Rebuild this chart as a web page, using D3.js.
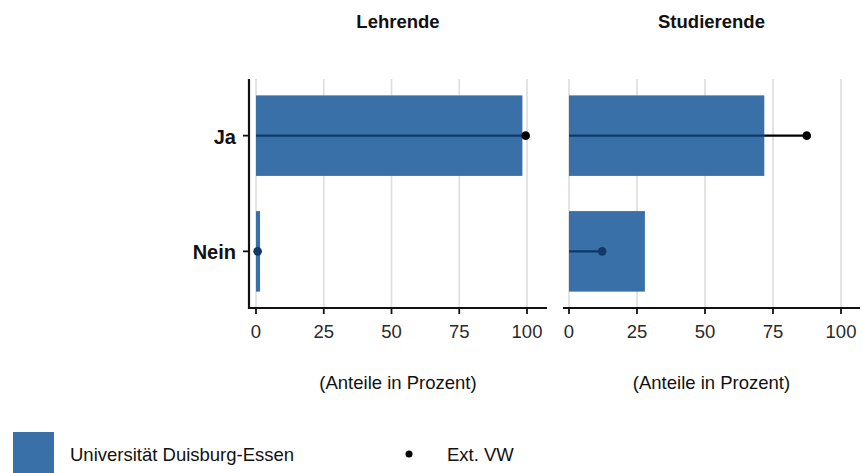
<!DOCTYPE html>
<html><head><meta charset="utf-8">
<script src="https://cdn.jsdelivr.net/npm/d3@7"></script>
<style>body{margin:0;background:#fff}svg{display:block;font-family:"Liberation Sans",Arial,sans-serif}</style>
</head><body><svg id="c" width="863" height="473"></svg>
<script>
const categories = ["Ja", "Nein"];
const panels = ["Lehrende", "Studierende"];
const uniValues = { "Lehrende": [98.3, 1.5], "Studierende": [71.8, 27.9] };
const extValues = { "Lehrende": [99.5, 0.6], "Studierende": [87.4, 12.2] };
const xTicks = [0, 25, 50, 75, 100];
const axisTitle = "(Anteile in Prozent)";
const legendLabels = ["Universität Duisburg-Essen", "Ext. VW"];

(function () {
const svg = d3.select("#c");
const barColor = "#3a70a8", lineInside = "#0d3a6a";
const panelX = [[256, 527], [569, 841]];
const axisStart = [249, 563], axisEnd = [547, 860];
const plotTop = 79, plotBottom = 308;
const fs = 18.5;

const y = d3.scaleBand().domain(categories).range([plotTop, plotBottom]).paddingInner(0.304).paddingOuter(0.1415);

panels.forEach((p, i) => {
  const x = d3.scaleLinear().domain([0, 100]).range(panelX[i]);
  const g = svg.append("g");
  g.selectAll("line.grid").data(xTicks).join("line")
    .attr("x1", d => x(d)).attr("x2", d => x(d)).attr("y1", plotTop).attr("y2", plotBottom)
    .attr("stroke", "#e0e0e0").attr("stroke-width", 1.8);
  const uv = uniValues[p], ev = extValues[p];
  categories.forEach((c, j) => {
    const cy = y(c) + y.bandwidth() / 2;
    g.append("line").attr("x1", x(0)).attr("x2", x(ev[j])).attr("y1", cy).attr("y2", cy)
      .attr("stroke", "#000").attr("stroke-width", 2.2);
    g.append("rect").attr("x", x(0)).attr("y", y(c)).attr("width", x(uv[j]) - x(0))
      .attr("height", y.bandwidth()).attr("fill", barColor);
    const inside = Math.min(uv[j], ev[j]);
    g.append("line").attr("x1", x(0)).attr("x2", x(inside)).attr("y1", cy).attr("y2", cy)
      .attr("stroke", lineInside).attr("stroke-width", 2.2);
    g.append("circle").attr("cx", x(ev[j])).attr("cy", cy).attr("r", 4.3)
      .attr("fill", ev[j] <= uv[j] ? lineInside : "#000");
  });
  g.append("line").attr("x1", axisStart[i]).attr("x2", axisEnd[i]).attr("y1", plotBottom).attr("y2", plotBottom)
    .attr("stroke", "#111").attr("stroke-width", 2.2);
  g.selectAll("line.tk").data(xTicks).join("line")
    .attr("x1", d => x(d)).attr("x2", d => x(d)).attr("y1", plotBottom).attr("y2", plotBottom + 6)
    .attr("stroke", "#111").attr("stroke-width", 1.8);
  g.selectAll("text.tl").data(xTicks).join("text")
    .attr("x", d => x(d)).attr("y", 338).attr("text-anchor", "middle")
    .attr("font-size", fs).attr("fill", "#2a2a2a").text(d => d);
  const cx = (axisStart[i] + axisEnd[i]) / 2;
  g.append("text").attr("x", cx).attr("y", 389).attr("text-anchor", "middle")
    .attr("font-size", fs).attr("fill", "#111").text(axisTitle);
  g.append("text").attr("x", cx).attr("y", 28).attr("text-anchor", "middle")
    .attr("font-size", fs).attr("font-weight", "bold").attr("fill", "#111").text(p);
});

svg.append("line").attr("x1", 249).attr("x2", 249).attr("y1", plotTop).attr("y2", plotBottom + 1)
  .attr("stroke", "#111").attr("stroke-width", 2.2);
categories.forEach(c => {
  const cy = y(c) + y.bandwidth() / 2;
  svg.append("line").attr("x1", 243).attr("x2", 249).attr("y1", cy).attr("y2", cy)
    .attr("stroke", "#111").attr("stroke-width", 1.8);
  svg.append("text").attr("x", 236).attr("y", cy + 8).attr("text-anchor", "end")
    .attr("font-size", 20).attr("font-weight", "bold").attr("fill", "#111").text(c);
});

svg.append("rect").attr("x", 13).attr("y", 432).attr("width", 41).attr("height", 42).attr("fill", barColor);
svg.append("text").attr("x", 70).attr("y", 461).attr("font-size", fs).attr("fill", "#111").text(legendLabels[0]);
svg.append("circle").attr("cx", 409).attr("cy", 454).attr("r", 3.5).attr("fill", "#000");
svg.append("text").attr("x", 447).attr("y", 461).attr("font-size", fs).attr("fill", "#111").text(legendLabels[1]);
})();
</script></body></html>
